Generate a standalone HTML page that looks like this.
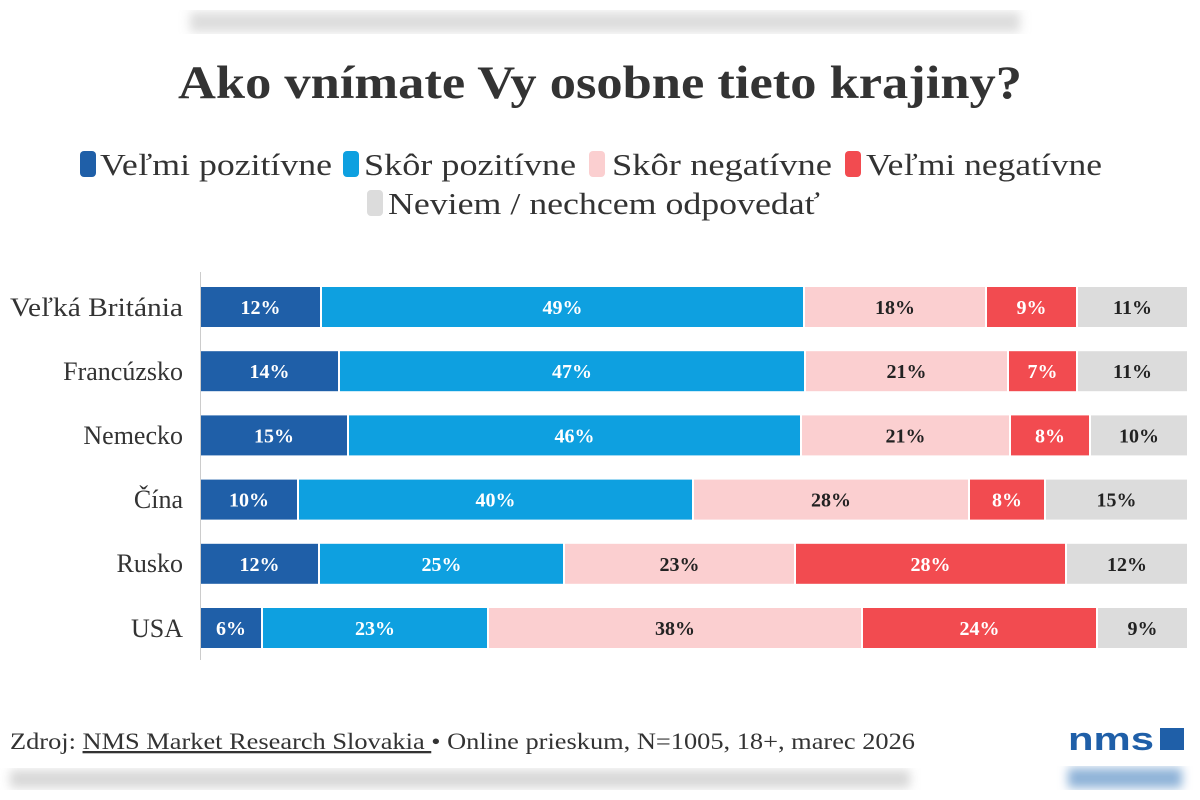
<!DOCTYPE html><html><head><meta charset="utf-8"><style>
body{margin:0;background:#fff;width:1200px;height:800px;overflow:hidden}
svg{display:block;font-family:"Liberation Serif",serif}
</style></head><body>
<svg width="1200" height="800" viewBox="0 0 1200 800">
<defs><filter id="b"><feGaussianBlur stdDeviation="5"/></filter></defs>
<rect x="190" y="12" width="830" height="20" fill="#cfcfcf" filter="url(#b)"/>
<rect x="0" y="0" width="1200" height="36" fill="#fff" opacity="0.3"/>
<text x="600" y="98" text-anchor="middle" font-size="47" font-weight="bold" fill="#333" textLength="844" lengthAdjust="spacingAndGlyphs">Ako vnímate Vy osobne tieto krajiny?</text>
<g font-size="31" fill="#333">
<rect x="80" y="151" width="16" height="26" rx="4" fill="#1f5fa8"/><text x="100" y="175" textLength="232" lengthAdjust="spacingAndGlyphs">Veľmi pozitívne</text>
<rect x="343" y="151" width="16" height="26" rx="4" fill="#0ea0e0"/><text x="364" y="175" textLength="212" lengthAdjust="spacingAndGlyphs">Skôr pozitívne</text>
<rect x="589" y="151" width="16" height="26" rx="4" fill="#fbcfd0"/><text x="612" y="175" textLength="220" lengthAdjust="spacingAndGlyphs">Skôr negatívne</text>
<rect x="845" y="151" width="16" height="26" rx="4" fill="#f24b50"/><text x="866" y="175" textLength="236" lengthAdjust="spacingAndGlyphs">Veľmi negatívne</text>
<rect x="367" y="190" width="16" height="26" rx="4" fill="#dcdcdc"/><text x="388" y="214" textLength="432" lengthAdjust="spacingAndGlyphs">Neviem / nechcem odpovedať</text>
</g>
<line x1="200.5" y1="272" x2="200.5" y2="660" stroke="#ccc"/>
<g id="bars" font-size="20" font-weight="bold" text-anchor="middle"></g>
<g font-size="26" fill="#333" text-anchor="end">
<text x="183" y="316" textLength="173" lengthAdjust="spacingAndGlyphs">Veľká Británia</text><text x="183" y="380">Francúzsko</text><text x="183" y="444">Nemecko</text><text x="183" y="508">Čína</text><text x="183" y="572">Rusko</text><text x="183" y="637">USA</text>
</g>
<text x="10" y="749" font-size="23" fill="#333" textLength="905" lengthAdjust="spacingAndGlyphs">Zdroj: <tspan text-decoration="underline">NMS Market Research Slovakia </tspan>• Online prieskum, N=1005, 18+, marec 2026</text>
<text x="1068" y="750" font-family="Liberation Sans,sans-serif" font-size="32" font-weight="bold" fill="#1f5fa8" textLength="86" lengthAdjust="spacingAndGlyphs">nms</text>
<rect x="1160" y="728" width="24" height="22" fill="#1f5fa8"/>
<rect x="10" y="770" width="900" height="18" fill="#d8d8d8" filter="url(#b)"/>
<rect x="1068" y="768" width="114" height="20" fill="#8fb3d8" filter="url(#b)"/>
</svg>
<script>
var rows=[[200,321,804,986,1077,1188,[12,49,18,9,11]],[200,339,805,1008,1077,1188,[14,47,21,7,11]],[200,348,801,1010,1090,1188,[15,46,21,8,10]],[200,298,693,969,1045,1188,[10,40,28,8,15]],[200,319,564,795,1066,1188,[12,25,23,28,12]],[200,262,488,862,1097,1188,[6,23,38,24,9]]];
var cols=["#1f5fa8","#0ea0e0","#fbcfd0","#f24b50","#dcdcdc"],tc=["#fff","#fff","#222","#fff","#222"];
var s="";rows.forEach(function(r,i){var y=287+i*64.2;for(var k=0;k<5;k++){var x0=r[k]+1,x1=r[k+1]-1;s+='<rect x="'+x0+'" y="'+y+'" width="'+(x1-x0)+'" height="40" fill="'+cols[k]+'"/>';s+='<text x="'+((x0+x1)/2)+'" y="'+(y+27)+'" fill="'+tc[k]+'">'+r[6][k]+'%</text>';}});
document.getElementById("bars").innerHTML=s;
</script>
</body></html>
